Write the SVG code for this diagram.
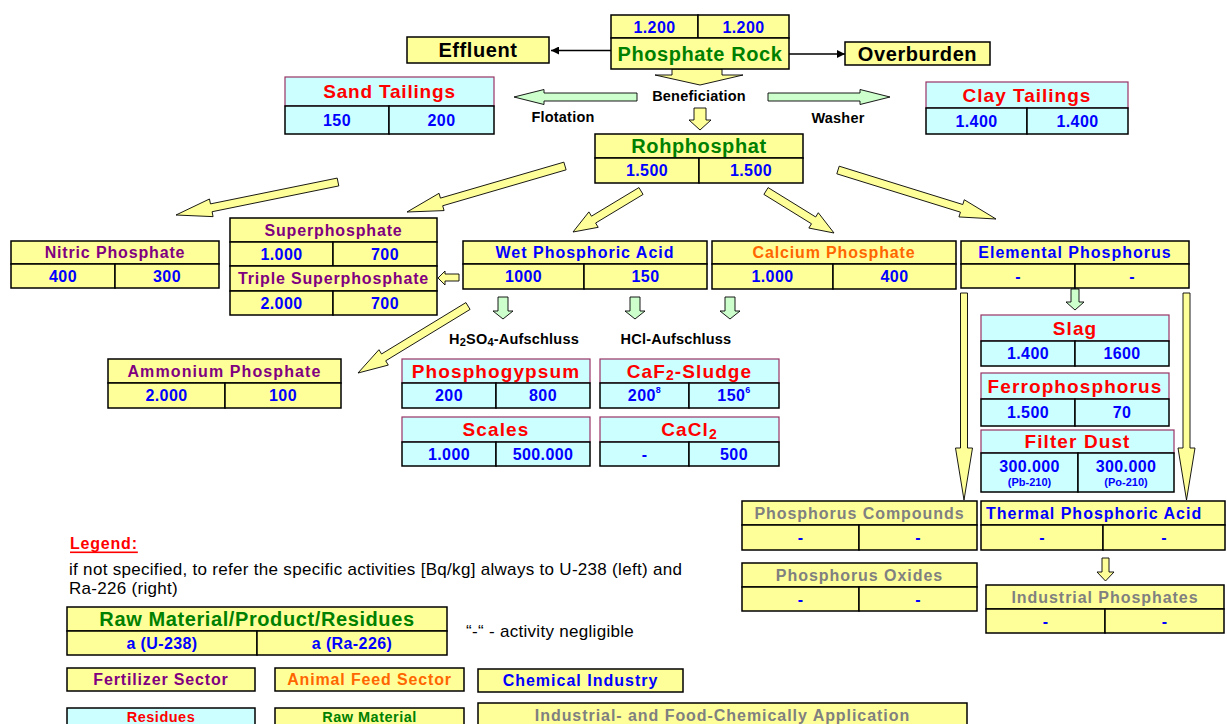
<svg xmlns="http://www.w3.org/2000/svg" width="1227" height="724" viewBox="0 0 1227 724">
<defs>
<style>
text{font-family:"Liberation Sans",Arial,sans-serif;font-weight:bold;text-anchor:middle;dominant-baseline:central}
.y{fill:#FFFF99;stroke:#000;stroke-width:1.5}
.c{fill:#CCFFFF;stroke:#000;stroke-width:1.5}
.ch{fill:#CCFFFF;stroke:#993366;stroke-width:1.2}
.ya{fill:#FFFF99;stroke:#000;stroke-width:0.9}
.ga{fill:#CCFFCC;stroke:#000;stroke-width:0.9}
.v{fill:#0000FF;font-size:16px;letter-spacing:0.4px}
.big{font-size:20px;letter-spacing:0.6px}
.res{fill:#FF0000;font-size:19px;letter-spacing:1.1px}
.gr{fill:#008000}
.pu{fill:#800080;font-size:16px;letter-spacing:0.85px}
.bl{fill:#0000FF;font-size:16px;letter-spacing:1px}
.or{fill:#FF6600;font-size:16px;letter-spacing:0.85px}
.gy{fill:#808080;font-size:16px;letter-spacing:0.95px}
.lab{fill:#000;font-size:14.5px;letter-spacing:0.2px}
.reg{font-weight:normal;text-anchor:start;font-size:17px;letter-spacing:0.3px;fill:#000}
</style>
<marker id="ah" viewBox="0 0 10 10" refX="10" refY="5" markerWidth="8" markerHeight="8" markerUnits="userSpaceOnUse" orient="auto"><path d="M0,0L10,5L0,10z" fill="#000"/></marker>
</defs>
<rect width="1227" height="724" fill="#fff"/>

<g id="connectors">
<line x1="611" y1="50.5" x2="551" y2="50.5" stroke="#000" stroke-width="1.5" marker-end="url(#ah)"/>
<line x1="789" y1="54" x2="845" y2="54" stroke="#000" stroke-width="1.5" marker-end="url(#ah)"/>
<polygon class="ya" points="672,69 722,69 722,75 743,75 700,85 655,75 672,75"/>
<polygon class="ya" points="694,108 706,108 706,120 711,120 700,130 689,120 694,120"/>
<polygon class="ga" points="637,93 544,93 544,89.5 514,97 544,104.5 544,101 637,101"/>
<polygon class="ga" points="768,93 860,93 860,89.5 890,97 860,104.5 860,101 768,101"/>
<polygon class="ya" points="337.2,178.08 210.48,203.89 209.48,198.99 176,215 213.08,216.63 212.08,211.73 338.8,185.92"/>
<polygon class="ya" points="563.88,162.16 440.44,198.1 439.04,193.3 407,212 444.08,210.58 442.68,205.78 566.12,169.84"/>
<polygon class="ya" points="638.93,187.57 591.48,216.18 588.9,211.9 573,232 598.2,227.32 595.62,223.04 643.07,194.43"/>
<polygon class="ya" points="763.9,194.4 811.48,223.78 808.85,228.04 834,233 818.31,212.72 815.68,216.98 768.1,187.6"/>
<polygon class="ya" points="836.82,173.82 960.43,212.16 958.94,216.94 996,219 964.28,199.74 962.8,204.52 839.19,166.18"/>
<polygon class="ya" points="465.92,302.58 381.54,353.98 378.94,349.71 358,373 388.3,365.09 385.7,360.82 470.08,309.42"/>
<polygon class="ya" points="459,274 445,274 445,271 438,278 445,285 445,281 459,281"/>
<polygon class="ga" points="498,297 508,297 508,311 513,311 503,319 493,311 498,311"/>
<polygon class="ga" points="630,297 640,297 640,311 645,311 635,319 625,311 630,311"/>
<polygon class="ga" points="725,297 735,297 735,311 740,311 730,319 720,311 725,311"/>
<polygon class="ga" points="1071,289 1079,289 1079,302 1084,302 1075,310 1066,302 1071,302"/>
<polygon class="ya" points="960.5,293 967.5,293 967.5,448 972.5,448 964,500 955.5,448 960.5,448"/>
<polygon class="ya" points="1183,293 1190,293 1190,448 1195,448 1186.5,500 1178,448 1183,448"/>
<polygon class="ya" points="1102,558 1109,558 1109,572 1114,572 1105.5,581 1097,572 1102,572"/>
</g>

<g id="labels">
<text class="lab" x="699" y="96">Beneficiation</text>
<text class="lab" x="563" y="117">Flotation</text>
<text class="lab" x="838" y="118">Washer</text>
<text class="lab" x="514" y="339">H<tspan font-size="11" dy="3">2</tspan><tspan dy="-3">SO</tspan><tspan font-size="11" dy="3">4</tspan><tspan dy="-3">-Aufschluss</tspan></text>
<text class="lab" x="676" y="339">HCl-Aufschluss</text>
</g>

<g id="phosphate-rock">
<rect class="y" x="611" y="15" width="87" height="23"/>
<rect class="y" x="698" y="15" width="91" height="23"/>
<rect class="y" x="611" y="38" width="178" height="31"/>
<text class="v" x="654.5" y="27">1.200</text>
<text class="v" x="743.5" y="27">1.200</text>
<text class="big gr" x="700" y="54">Phosphate Rock</text>
</g>

<g id="effluent">
<rect class="y" x="407" y="37" width="142" height="26"/>
<text class="big" x="478" y="50" fill="#000">Effluent</text>
</g>

<g id="overburden">
<rect class="y" x="845" y="42" width="145" height="23"/>
<text class="big" x="917.5" y="54" fill="#000">Overburden</text>
</g>

<g id="sand-tailings">
<rect class="ch" x="285" y="77" width="209" height="29"/>
<rect class="c" x="285" y="106" width="104" height="28"/>
<rect class="c" x="389" y="106" width="105" height="28"/>
<text class="res" x="389.5" y="91" style="letter-spacing:0.8px">Sand Tailings</text>
<text class="v" x="337" y="120">150</text>
<text class="v" x="441.5" y="120">200</text>
</g>

<g id="clay-tailings">
<rect class="ch" x="926" y="82" width="202" height="26"/>
<rect class="c" x="926" y="108" width="101" height="26"/>
<rect class="c" x="1027" y="108" width="101" height="26"/>
<text class="res" x="1027" y="95" style="letter-spacing:1px">Clay Tailings</text>
<text class="v" x="976.5" y="121">1.400</text>
<text class="v" x="1077.5" y="121">1.400</text>
</g>

<g id="rohphosphat">
<rect class="y" x="595" y="134" width="208" height="24"/>
<rect class="y" x="595" y="158" width="104" height="25"/>
<rect class="y" x="699" y="158" width="104" height="25"/>
<text class="big gr" x="699" y="146">Rohphosphat</text>
<text class="v" x="647" y="170.5">1.500</text>
<text class="v" x="751" y="170.5">1.500</text>
</g>

<g id="nitric-phosphate">
<rect class="y" x="11" y="241" width="208" height="23"/>
<rect class="y" x="11" y="264" width="104" height="24"/>
<rect class="y" x="115" y="264" width="104" height="24"/>
<text class="pu" x="115" y="252.5">Nitric Phosphate</text>
<text class="v" x="63" y="276">400</text>
<text class="v" x="167" y="276">300</text>
</g>

<g id="superphosphate">
<rect class="y" x="230" y="218" width="207" height="24"/>
<rect class="y" x="230" y="242" width="103" height="24"/>
<rect class="y" x="333" y="242" width="104" height="24"/>
<rect class="y" x="230" y="266" width="207" height="25"/>
<rect class="y" x="230" y="291" width="103" height="24"/>
<rect class="y" x="333" y="291" width="104" height="24"/>
<text class="pu" x="333.5" y="230">Superphosphate</text>
<text class="v" x="281.5" y="254">1.000</text>
<text class="v" x="385" y="254">700</text>
<text class="pu" x="333.5" y="278.5">Triple Superphosphate</text>
<text class="v" x="281.5" y="303">2.000</text>
<text class="v" x="385" y="303">700</text>
</g>

<g id="wet-phosphoric-acid">
<rect class="y" x="463" y="241" width="244" height="23"/>
<rect class="y" x="463" y="264" width="121" height="25"/>
<rect class="y" x="584" y="264" width="123" height="25"/>
<text class="bl" x="585" y="252.5">Wet Phosphoric Acid</text>
<text class="v" x="523.5" y="276.5">1000</text>
<text class="v" x="645.5" y="276.5">150</text>
</g>

<g id="calcium-phosphate">
<rect class="y" x="712" y="241" width="244" height="23"/>
<rect class="y" x="712" y="264" width="121" height="25"/>
<rect class="y" x="833" y="264" width="123" height="25"/>
<text class="or" x="834" y="252.5">Calcium Phosphate</text>
<text class="v" x="772.5" y="276.5">1.000</text>
<text class="v" x="894.5" y="276.5">400</text>
</g>

<g id="elemental-phosphorus">
<rect class="y" x="961" y="241" width="228" height="23"/>
<rect class="y" x="961" y="264" width="114" height="24"/>
<rect class="y" x="1075" y="264" width="114" height="24"/>
<text class="bl" x="1075" y="252.5">Elemental Phosphorus</text>
<text class="v" x="1018" y="276">-</text>
<text class="v" x="1132" y="276">-</text>
</g>

<g id="ammonium-phosphate">
<rect class="y" x="108" y="359" width="233" height="24"/>
<rect class="y" x="108" y="383" width="117" height="25"/>
<rect class="y" x="225" y="383" width="116" height="25"/>
<text class="pu" x="224.5" y="371" style="letter-spacing:1.1px">Ammonium Phosphate</text>
<text class="v" x="166.5" y="395.5">2.000</text>
<text class="v" x="283" y="395.5">100</text>
</g>

<g id="phosphogypsum">
<rect class="ch" x="402" y="359" width="188" height="24"/>
<rect class="c" x="402" y="383" width="94" height="25"/>
<rect class="c" x="496" y="383" width="94" height="25"/>
<text class="res" x="496" y="371">Phosphogypsum</text>
<text class="v" x="449" y="395.5">200</text>
<text class="v" x="543" y="395.5">800</text>
</g>

<g id="caf2-sludge">
<rect class="ch" x="600" y="359" width="179" height="24"/>
<rect class="c" x="600" y="383" width="89" height="25"/>
<rect class="c" x="689" y="383" width="90" height="25"/>
<text class="res" x="689.5" y="371">CaF<tspan font-size="14" dy="4">2</tspan><tspan dy="-4">-Sludge</tspan></text>
<text class="v" x="644.5" y="395.5">200<tspan font-size="9" dy="-6">8</tspan></text>
<text class="v" x="734" y="395.5">150<tspan font-size="9" dy="-6">6</tspan></text>
</g>

<g id="scales">
<rect class="ch" x="402" y="417" width="188" height="25"/>
<rect class="c" x="402" y="442" width="94" height="24"/>
<rect class="c" x="496" y="442" width="94" height="24"/>
<text class="res" x="496" y="429.5">Scales</text>
<text class="v" x="449" y="454">1.000</text>
<text class="v" x="543" y="454">500.000</text>
</g>

<g id="cacl2">
<rect class="ch" x="600" y="417" width="179" height="25"/>
<rect class="c" x="600" y="442" width="89" height="24"/>
<rect class="c" x="689" y="442" width="90" height="24"/>
<text class="res" x="689.5" y="429.5">CaCl<tspan font-size="14" dy="4">2</tspan></text>
<text class="v" x="644.5" y="454">-</text>
<text class="v" x="734" y="454">500</text>
</g>

<g id="slag">
<rect class="ch" x="981" y="315" width="188" height="26"/>
<rect class="c" x="981" y="341" width="94" height="25"/>
<rect class="c" x="1075" y="341" width="94" height="25"/>
<text class="res" x="1075" y="328">Slag</text>
<text class="v" x="1028" y="353.5">1.400</text>
<text class="v" x="1122" y="353.5">1600</text>
</g>

<g id="ferrophosphorus">
<rect class="ch" x="981" y="373" width="188" height="26"/>
<rect class="c" x="981" y="399" width="94" height="27"/>
<rect class="c" x="1075" y="399" width="94" height="27"/>
<text class="res" x="1075" y="386">Ferrophosphorus</text>
<text class="v" x="1028" y="412.5">1.500</text>
<text class="v" x="1122" y="412.5">70</text>
</g>

<g id="filter-dust">
<rect class="ch" x="981" y="430" width="193" height="23"/>
<rect class="c" x="981" y="453" width="97" height="39"/>
<rect class="c" x="1078" y="453" width="96" height="39"/>
<text class="res" x="1077.5" y="441.5">Filter Dust</text>
<text class="v" x="1029.5" y="466">300.000</text>
<text class="v" x="1029.5" y="482" style="font-size:11px;letter-spacing:0">(Pb-210)</text>
<text class="v" x="1126" y="466">300.000</text>
<text class="v" x="1126" y="482" style="font-size:11px;letter-spacing:0">(Po-210)</text>
</g>

<g id="phosphorus-compounds">
<rect class="y" x="742" y="501" width="235" height="24"/>
<rect class="y" x="742" y="525" width="117" height="25"/>
<rect class="y" x="859" y="525" width="118" height="25"/>
<text class="gy" x="859.5" y="513">Phosphorus Compounds</text>
<text class="v" x="800.5" y="537.5">-</text>
<text class="v" x="918" y="537.5">-</text>
</g>

<g id="thermal-phosphoric-acid">
<rect class="y" x="981" y="501" width="244" height="24"/>
<rect class="y" x="981" y="525" width="122" height="25"/>
<rect class="y" x="1103" y="525" width="122" height="25"/>
<text class="bl" x="986" y="513" style="text-anchor:start">Thermal Phosphoric Acid</text>
<text class="v" x="1042" y="537.5">-</text>
<text class="v" x="1164" y="537.5">-</text>
</g>

<g id="phosphorus-oxides">
<rect class="y" x="742" y="563" width="235" height="24"/>
<rect class="y" x="742" y="587" width="117" height="24"/>
<rect class="y" x="859" y="587" width="118" height="24"/>
<text class="gy" x="859.5" y="575">Phosphorus Oxides</text>
<text class="v" x="800.5" y="599">-</text>
<text class="v" x="918" y="599">-</text>
</g>

<g id="industrial-phosphates">
<rect class="y" x="986" y="585" width="238" height="24"/>
<rect class="y" x="986" y="609" width="119" height="24"/>
<rect class="y" x="1105" y="609" width="119" height="24"/>
<text class="gy" x="1105" y="597">Industrial Phosphates</text>
<text class="v" x="1045.5" y="621">-</text>
<text class="v" x="1164.5" y="621">-</text>
</g>

<g id="legend">
<text x="70" y="543" style="text-anchor:start;font-size:16px;letter-spacing:0.8px;fill:#FF0000;text-decoration:underline">Legend:</text>
<text class="reg" x="69" y="569">if not specified, to refer the specific activities [Bq/kg] always to U-238 (left) and</text>
<text class="reg" x="69" y="588">Ra-226 (right)</text>
<g id="legend-box">
<rect class="y" x="67" y="607" width="380" height="24"/>
<rect class="y" x="67" y="631" width="190" height="24"/>
<rect class="y" x="257" y="631" width="190" height="24"/>
<text class="big gr" x="257" y="619">Raw Material/Product/Residues</text>
<text class="v" x="162" y="643">a (U-238)</text>
<text class="v" x="352" y="643">a (Ra-226)</text>
</g>
<text class="reg" x="466" y="631">“-“ - activity negligible</text>
<g id="legend-fertilizer">
<rect class="y" x="67" y="668" width="188" height="23"/>
<text class="pu" x="161" y="679.5">Fertilizer Sector</text>
</g>
<g id="legend-animal-feed">
<rect class="y" x="275" y="668" width="189" height="23"/>
<text class="or" x="369.5" y="679.5">Animal Feed Sector</text>
</g>
<g id="legend-chemical">
<rect class="y" x="478" y="669" width="205" height="23"/>
<text class="bl" x="580.5" y="680.5">Chemical Industry</text>
</g>
<g id="legend-residues">
<rect class="c" x="67" y="708" width="188" height="30"/>
<text x="161" y="716.5" style="font-size:14.5px;letter-spacing:0.5px;fill:#FF0000">Residues</text>
</g>
<g id="legend-raw-material">
<rect class="y" x="275" y="708" width="189" height="30"/>
<text x="369.5" y="716.5" style="font-size:14.5px;letter-spacing:0.5px;fill:#008000">Raw Material</text>
</g>
<g id="legend-application">
<rect class="y" x="478" y="703" width="489" height="30"/>
<text class="gy" x="722.5" y="715">Industrial- and Food-Chemically Application</text>
</g>
</g>
</svg>
